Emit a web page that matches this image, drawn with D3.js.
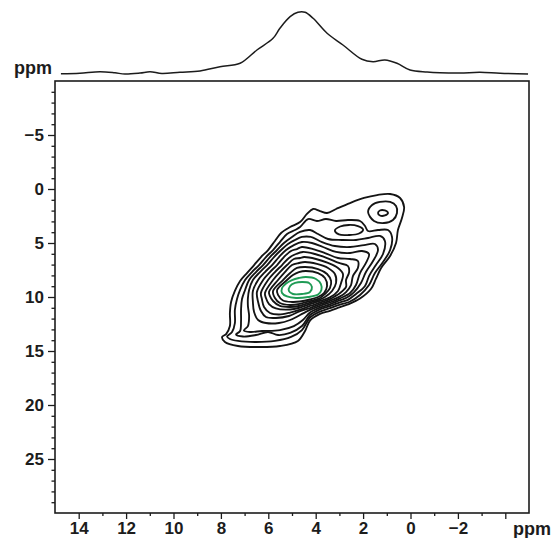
<!DOCTYPE html>
<html><head><meta charset="utf-8">
<script src="https://cdn.jsdelivr.net/npm/d3@7"></script>
<style>body{margin:0;background:#fff}</style>
</head><body>
<svg id="chart" width="556" height="538"></svg>
<script>
// ---------- data (ppm units) ----------
const xTickLabels = [14, 12, 10, 8, 6, 4, 2, 0, -2];
const xMajorTicks = [14, 12, 10, 8, 6, 4, 2, 0, -2, -4];
const xMinorTicks = [13, 11, 9, 7, 5, 3, 1, -1, -3];
const yTickLabels = [-5, 0, 5, 10, 15, 20, 25];
const yMinorTicks = [-9,-8,-7,-6,-4,-3,-2,-1,1,2,3,4,6,7,8,9,11,12,13,14,16,17,18,19,21,22,23,24,26,27,28,29];

// 1D projection (top trace)
const projPpm = [14.75,13.95,13.10,12.47,12.05,11.41,10.99,10.49,9.73,8.88,8.04,7.19,6.48,5.80,5.51,5.08,4.75,4.45,4.11,3.52,2.85,2.05,1.58,1.08,0.57,0.02,-0.70,-1.24,-2.09,-2.93,-3.78,-4.96];
const projIntensity = [-0.5,0.5,2.8,1.1,-0.8,0.8,2.8,0,2.0,4.1,11.1,16.7,38.4,57.5,73.9,92.8,100,100,90.2,65.7,46.6,23.2,19.3,22.1,16.7,5.7,2.5,1.3,0.8,2.0,0.3,-0.8];

// contour outlines, outermost to innermost: [F2 ppm, F1 ppm]
const level1 = [[4.66,3.06],[4.37,2.31],[4.11,1.85],[3.82,2.04],[3.52,2.22],[3.14,1.85],[2.55,1.30],[1.96,0.83],[1.41,0.56],[0.86,0.46],[0.44,0.83],[0.27,1.67],[0.36,2.69],[0.53,3.80],[0.61,5.00],[0.86,6.20],[1.24,7.31],[1.46,8.33],[1.67,9.26],[2.13,10.14],[2.64,10.69],[2.97,10.94],[3.40,11.28],[3.82,11.57],[4.24,12.18],[4.45,13.15],[4.75,14.07],[5.51,14.54],[6.43,14.63],[7.28,14.54],[7.83,14.17],[7.95,13.70],[7.78,13.43],[7.62,12.69],[7.62,11.48],[7.57,10.46],[7.41,9.44],[7.19,8.52],[6.90,7.78],[6.60,7.04],[6.31,6.30],[6.01,5.65],[5.72,4.81],[5.46,4.07],[5.08,3.52]];
const level2 = [[4.66,3.52],[4.32,2.78],[3.95,2.96],[3.57,2.78],[3.14,2.96],[2.64,2.87],[2.13,2.96],[1.92,3.43],[1.79,3.89],[1.37,3.80],[0.95,3.80],[0.78,4.44],[0.86,5.65],[1.16,6.76],[1.50,7.78],[1.75,8.89],[2.13,9.81],[2.59,10.46],[2.97,10.70],[3.40,11.04],[3.82,11.35],[4.24,11.90],[4.58,13.06],[5.04,13.70],[5.72,14.07],[6.56,14.17],[7.28,14.07],[7.62,13.89],[7.74,13.66],[7.53,13.24],[7.41,12.41],[7.41,11.20],[7.32,10.19],[7.19,9.35],[6.98,8.43],[6.69,7.69],[6.39,7.04],[6.10,6.30],[5.80,5.65],[5.51,4.91],[5.21,4.17],[4.87,3.80]];
const level2Island = [[1.79,2.13],[1.62,1.48],[1.29,1.20],[0.86,1.20],[0.61,1.57],[0.57,2.22],[0.74,2.87],[1.12,3.15],[1.54,2.96]];
const level3 = [[4.66,3.98],[4.24,3.80],[3.90,4.17],[3.48,4.63],[2.89,4.72],[2.30,4.72],[1.79,4.54],[1.29,4.35],[1.08,4.81],[1.16,6.02],[1.46,7.04],[1.75,8.06],[1.92,8.98],[2.30,9.72],[2.64,10.26],[2.97,10.49],[3.40,10.85],[3.82,11.15],[4.24,11.67],[4.58,12.69],[5.08,13.33],[5.59,13.52],[6.01,13.24],[6.52,13.52],[7.07,13.66],[7.36,13.47],[7.19,13.15],[7.15,12.22],[7.15,11.20],[7.11,10.19],[6.98,9.35],[6.81,8.43],[6.52,7.69],[6.22,7.04],[5.93,6.30],[5.63,5.65],[5.34,5.00],[5.00,4.44]];
const level3IslandPeak = [[1.37,2.22],[1.29,1.99],[1.08,1.99],[0.95,2.22],[1.08,2.45],[1.29,2.45]];
const level3IslandOval = [[3.19,3.84],[2.97,3.47],[2.60,3.33],[2.22,3.43],[2.00,3.75],[2.17,4.12],[2.60,4.26],[3.02,4.21]];
const level4 = [[4.58,4.44],[4.20,4.44],[3.73,4.91],[3.19,5.28],[2.55,5.37],[1.96,5.19],[1.50,5.09],[1.37,5.65],[1.58,6.67],[1.88,7.69],[2.09,8.70],[2.38,9.54],[2.68,10.05],[2.97,10.30],[3.40,10.68],[3.82,10.99],[4.24,11.44],[4.54,12.13],[4.92,12.69],[5.51,13.06],[6.27,13.15],[6.77,13.24],[7.03,13.10],[6.86,12.69],[6.81,11.76],[6.86,10.83],[6.86,10.09],[6.81,9.35],[6.65,8.43],[6.35,7.69],[6.05,7.04],[5.76,6.30],[5.46,5.65],[5.17,5.09],[4.87,4.72]];
const level5 = [[4.58,4.91],[4.16,5.00],[3.69,5.37],[3.14,5.83],[2.55,5.93],[2.05,5.74],[1.75,6.02],[1.88,6.85],[2.13,7.78],[2.30,8.89],[2.55,9.63],[2.97,10.12],[3.40,10.51],[3.82,10.82],[4.24,11.20],[4.66,11.67],[5.08,12.13],[5.55,12.41],[6.10,12.41],[6.43,12.13],[6.60,11.39],[6.65,10.46],[6.65,9.44],[6.43,8.43],[6.14,7.69],[5.84,7.04],[5.55,6.30],[5.25,5.65],[4.92,5.19]];
const level6 = [[4.58,5.37],[4.11,5.56],[3.61,5.93],[3.06,6.39],[2.55,6.48],[2.22,6.67],[2.22,7.31],[2.43,8.06],[2.51,8.89],[2.72,9.54],[2.97,9.94],[3.40,10.35],[3.82,10.67],[4.24,11.02],[4.66,11.30],[5.13,11.76],[5.68,11.94],[6.10,11.85],[6.31,11.30],[6.43,10.46],[6.48,9.54],[6.22,8.43],[5.93,7.69],[5.63,7.04],[5.34,6.30],[5.04,5.74],[4.79,5.56]];
const level7 = [[4.54,5.83],[4.03,6.02],[3.52,6.39],[3.02,6.85],[2.64,7.13],[2.59,7.69],[2.72,8.43],[2.72,9.07],[2.97,9.63],[3.19,9.94],[3.40,10.20],[3.82,10.52],[4.24,10.83],[4.66,11.17],[5.08,11.44],[5.55,11.62],[5.93,11.48],[6.18,10.93],[6.27,10.19],[6.31,9.63],[6.01,8.43],[5.72,7.69],[5.42,7.04],[5.13,6.39],[4.83,6.02]];
const level8 = [[4.49,6.30],[3.99,6.48],[3.48,6.85],[3.06,7.31],[2.85,7.87],[2.93,8.70],[3.06,9.44],[3.40,10.03],[3.82,10.37],[4.24,10.67],[4.66,10.98],[5.08,11.16],[5.68,11.06],[5.97,10.65],[6.10,10.09],[6.14,9.63],[5.80,8.43],[5.51,7.69],[5.21,7.04],[4.92,6.48],[4.66,6.39]];
const level9 = [[4.45,6.76],[3.95,6.94],[3.48,7.31],[3.19,7.87],[3.14,8.70],[3.31,9.44],[3.61,10.00],[3.82,10.23],[4.24,10.52],[4.66,10.81],[5.08,10.93],[5.51,10.83],[5.80,10.37],[5.93,9.91],[5.97,9.54],[5.59,8.43],[5.30,7.69],[5.00,7.04],[4.71,6.85]];
const level10 = [[4.45,7.22],[3.90,7.41],[3.52,7.87],[3.35,8.52],[3.40,9.17],[3.61,9.72],[3.82,10.09],[4.24,10.38],[4.66,10.63],[5.08,10.74],[5.51,10.56],[5.72,10.09],[5.80,9.44],[5.38,8.43],[5.08,7.78],[4.79,7.31]];
const level11 = [[4.41,7.59],[3.90,7.78],[3.61,8.24],[3.52,8.98],[3.65,9.63],[3.90,10.00],[4.24,10.23],[4.66,10.42],[5.00,10.46],[5.38,10.32],[5.59,9.81],[5.63,9.35],[5.21,8.43],[4.96,7.96],[4.71,7.69]];
const level12 = [[4.41,8.15],[3.99,8.33],[3.78,8.80],[3.76,9.35],[3.90,9.77],[4.32,10.00],[4.83,10.09],[5.21,9.95],[5.42,9.63],[5.42,9.17],[5.25,8.75],[5.00,8.43],[4.71,8.24]];
const level13 = [[4.58,8.61],[4.28,8.70],[4.16,9.07],[4.24,9.54],[4.58,9.72],[4.96,9.72],[5.13,9.44],[5.08,8.98],[4.87,8.70]];

const blackContours = [level1, level2, level2Island, level3, level3IslandPeak, level3IslandOval,
  level4, level5, level6, level7, level8, level9, level10, level11];
const greenContours = [level12, level13];

// ---------- drawing ----------
const svg = d3.select("#chart");
const x = d3.scaleLinear().domain([15, -5]).range([55, 529]);
const y = d3.scaleLinear().domain([-10, 30]).range([81, 513]);
const yProj = d3.scaleLinear().domain([0, 100]).range([73.5, 12.3]);

const FONT = "'Liberation Sans', Arial, Helvetica, sans-serif";
const INK = "#1c1c1c";

// plot frame
svg.append("rect")
  .attr("x", x(15)).attr("y", y(-10))
  .attr("width", x(-5) - x(15)).attr("height", y(30) - y(-10))
  .attr("fill", "none").attr("stroke", INK).attr("stroke-width", 1.6);

// contours
const contourLine = d3.line()
  .x(d => x(d[0])).y(d => y(d[1]))
  .curve(d3.curveCatmullRomClosed.alpha(0.5));

const cg = svg.append("g");
cg.selectAll("path.black").data(blackContours).join("path")
  .attr("class", "black")
  .attr("d", contourLine)
  .attr("fill", "none").attr("stroke", "#141414").attr("stroke-width", 1.85)
  .attr("stroke-linejoin", "round");
cg.selectAll("path.green").data(greenContours).join("path")
  .attr("class", "green")
  .attr("d", contourLine)
  .attr("fill", "none").attr("stroke", "#1f9b55").attr("stroke-width", 1.9);

// top projection
const projData = projPpm.map((p, i) => [p, projIntensity[i]]);
svg.append("path")
  .datum(projData)
  .attr("d", d3.line().x(d => x(d[0])).y(d => yProj(d[1])).curve(d3.curveCatmullRom.alpha(0.5)))
  .attr("fill", "none").attr("stroke", INK).attr("stroke-width", 1.5);

// x axis
const bottom = y(30);
const xAxisMajor = d3.axisBottom(x).tickValues(xMajorTicks).tickSize(6).tickPadding(3)
  .tickFormat(d => xTickLabels.includes(d) ? d3.format("")(d) : "");
const gx = svg.append("g").attr("transform", `translate(0,${bottom})`).call(xAxisMajor);
const gxm = svg.append("g").attr("transform", `translate(0,${bottom})`)
  .call(d3.axisBottom(x).tickValues(xMinorTicks).tickSize(3).tickFormat(""));

// y axis
const left = x(15);
const yAxisMajor = d3.axisLeft(y).tickValues(yTickLabels).tickSize(7).tickPadding(4)
  .tickFormat(d3.format(""));
const gy = svg.append("g").attr("transform", `translate(${left},0)`).call(yAxisMajor);
const gym = svg.append("g").attr("transform", `translate(${left},0)`)
  .call(d3.axisLeft(y).tickValues(yMinorTicks).tickSize(3.5).tickFormat(""));

[gx, gxm, gy, gym].forEach(g => {
  g.select(".domain").remove();
  g.selectAll(".tick line").attr("stroke", INK).attr("stroke-width", 1.3);
  g.selectAll("text").attr("font-family", FONT).attr("font-size", 17)
    .attr("font-weight", "bold").attr("fill", INK);
});

// unit labels
svg.append("text").attr("x", 14).attr("y", 74)
  .attr("font-family", FONT).attr("font-size", 18).attr("font-weight", "bold")
  .attr("fill", INK).text("ppm");
svg.append("text").attr("x", 513).attr("y", 535)
  .attr("font-family", FONT).attr("font-size", 18).attr("font-weight", "bold")
  .attr("fill", INK).text("ppm");
</script>
</body></html>
